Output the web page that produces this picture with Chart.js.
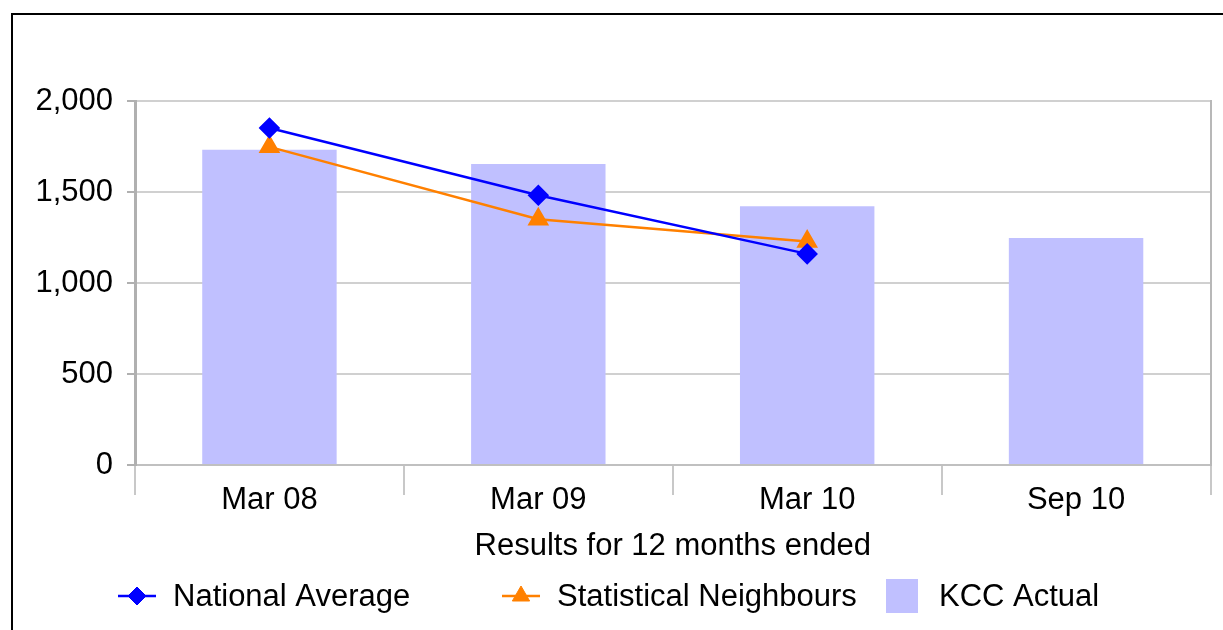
<!DOCTYPE html>
<html>
<head>
<meta charset="utf-8">
<script src="https://cdn.jsdelivr.net/npm/chart.js@4/dist/chart.umd.min.js"></script>
<style>
  html, body { margin: 0; padding: 0; background: #fff; overflow: hidden; }
  #frame { position: absolute; left: 11px; top: 13px; width: 1240px; height: 640px; border: 2px solid #000; box-sizing: border-box; }
  #wrap { position: absolute; left: 0; top: 0; width: 1223px; height: 630px; }
</style>
</head>
<body>
<div id="frame"></div>
<div id="wrap"><canvas id="chart"></canvas></div>
<script>
// data
const categories = ['Mar 08', 'Mar 09', 'Mar 10', 'Sep 10'];
const nationalAverage = [1852, 1482, 1160, null];
const statNeighbours = [1748, 1350, 1228, null];
const kccActual = [1732, 1654, 1422, 1247];
const yTicks = [0, 500, 1000, 1500, 2000];

const FONT = '"Liberation Sans", Arial, sans-serif';
const FONT_SIZE = 31;

// legend drawn in equal slots like the original
const legendPlugin = {
  id: 'slotLegend',
  afterDraw(chart) {
    const ctx = chart.ctx;
    const left = 118, slot = 384, cy = 596;
    ctx.save();
    ctx.font = FONT_SIZE + 'px ' + FONT;
    ctx.textBaseline = 'middle';
    chart.data.datasets.forEach((ds, i) => {
      const x = left + i * slot;
      if (ds.type === 'line') {
        ctx.strokeStyle = ds.borderColor;
        ctx.lineWidth = ds.borderWidth;
        ctx.beginPath();
        ctx.moveTo(x, cy);
        ctx.lineTo(x + 38, cy);
        ctx.stroke();
        ctx.fillStyle = ds.pointBackgroundColor;
        ctx.strokeStyle = ds.pointBorderColor;
        ctx.lineWidth = 1;
        Chart.helpers.drawPoint(ctx, {
          pointStyle: ds.pointStyle, radius: ds.pointRadius, borderWidth: 1, rotation: 0
        }, x + 19, cy);
        ctx.fillStyle = '#000';
        ctx.fillText(ds.label, x + 55, cy + 1);
      } else {
        ctx.fillStyle = ds.backgroundColor;
        ctx.fillRect(x, cy - 17, 32, 34);
        ctx.fillStyle = '#000';
        ctx.fillText(ds.label, x + 53, cy + 1);
      }
    });
    ctx.restore();
  }
};

new Chart(document.getElementById('chart'), {
  data: {
    labels: categories,
    datasets: [
      {
        type: 'line',
        label: 'National Average',
        data: nationalAverage,
        borderColor: '#0000ff',
        backgroundColor: '#0000ff',
        pointBackgroundColor: '#0000ff',
        pointBorderColor: '#0000ff',
        pointStyle: 'rectRot',
        pointRadius: 9,
        borderWidth: 2.5,
        tension: 0
      },
      {
        type: 'line',
        label: 'Statistical Neighbours',
        data: statNeighbours,
        borderColor: '#ff8000',
        backgroundColor: '#ff8000',
        pointBackgroundColor: '#ff8000',
        pointBorderColor: '#ff8000',
        pointStyle: 'triangle',
        pointRadius: 10,
        borderWidth: 2.5,
        tension: 0
      },
      {
        type: 'bar',
        label: 'KCC Actual',
        data: kccActual,
        backgroundColor: '#c0c0ff',
        categoryPercentage: 1,
        barPercentage: 0.5
      }
    ]
  },
  options: {
    responsive: true,
    maintainAspectRatio: false,
    animation: false,
    layout: { padding: { top: 101, right: 12, left: 0, bottom: 0 } },
    plugins: {
      legend: { display: false },
      tooltip: { enabled: false }
    },
    scales: {
      x: {
        offset: true,
        afterFit: (s) => { s.height = 165; },
        grid: {
          offset: true,
          drawOnChartArea: false,
          tickLength: 30,
          tickColor: '#c8c8c8',
          lineWidth: 2
        },
        border: { color: '#c0c0c0', width: 2 },
        ticks: {
          color: '#000',
          padding: -13,
          font: { family: FONT, size: FONT_SIZE }
        },
        title: {
          display: true,
          text: 'Results for 12 months ended',
          color: '#000',
          font: { family: FONT, size: FONT_SIZE },
          padding: { top: 0, bottom: 65 }
        }
      },
      y: {
        min: 0,
        max: 2000,
        afterFit: (s) => { s.width = 135; },
        afterBuildTicks: (s) => { s.ticks = yTicks.map(v => ({ value: v })); },
        grid: {
          color: '#d0d0d0',
          lineWidth: 2,
          tickLength: 8,
          tickColor: '#b0b0b0'
        },
        border: { color: '#b0b0b0', width: 3 },
        ticks: {
          color: '#000',
          padding: 14,
          font: { family: FONT, size: FONT_SIZE },
          callback: (v) => v.toLocaleString('en-US')
        }
      },
      y2: {
        position: 'right',
        display: true,
        min: 0,
        max: 2000,
        afterFit: (s) => { s.width = 0; },
        grid: { display: false },
        border: { color: '#b8b8b8', width: 2 },
        ticks: { display: false }
      }
    }
  },
  plugins: [legendPlugin]
});
</script>
</body>
</html>
